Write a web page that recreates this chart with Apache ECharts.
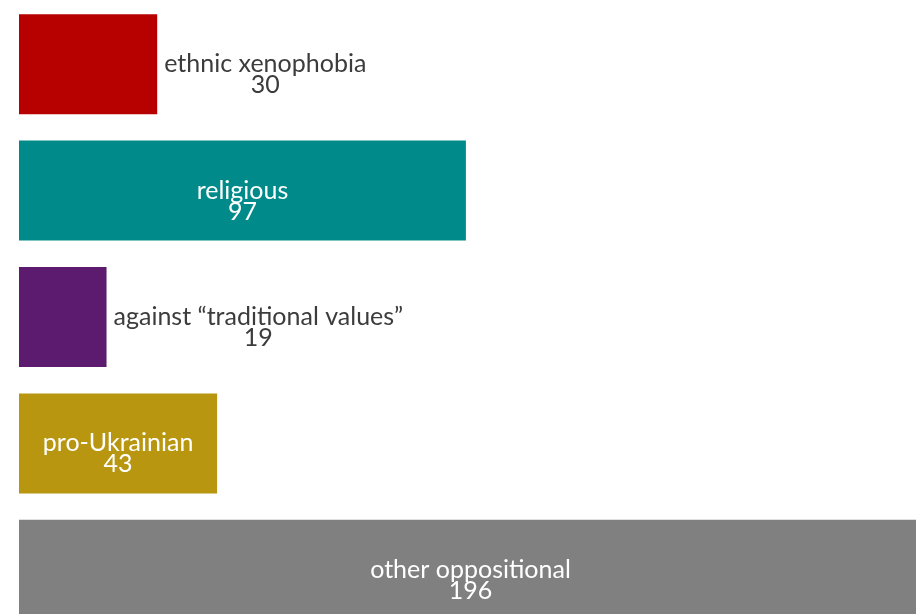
<!DOCTYPE html>
<html>
<head>
<meta charset="utf-8">
<style>
  html, body { margin: 0; padding: 0; background: #ffffff; }
  #chart { width: 916px; height: 614px; }
</style>
<script src="https://cdn.jsdelivr.net/npm/echarts@6/dist/echarts.min.js"></script>
</head>
<body>
<div id="chart"></div>
<script>
// Categories listed top to bottom, with their counts and bar colours
const categories = ['ethnic xenophobia', 'religious', 'against \u201ctraditional values\u201d', 'pro-Ukrainian', 'other oppositional'];
const counts = [30, 97, 19, 43, 196];
const barColors = ['#b70000', '#008b8a', '#5c1b6e', '#b8960f', '#808080'];

const FONT = 'Lato, "Source Sans Pro", "Noto Sans", sans-serif';
const FONT_SIZE = 25;
const LINE_H = 21;

const chart = echarts.init(document.getElementById('chart'), null, { renderer: 'canvas' });

function labelFor(i, inside) {
  const color = inside ? '#ffffff' : '#3c3c3c';
  return {
    show: true,
    position: inside ? 'inside' : 'right',
    distance: 7,
    offset: [0, LINE_H / 2],
    formatter: '{n|' + categories[i] + '}\n{v|' + counts[i] + '}',
    rich: {
      n: { align: 'center', fontFamily: FONT, fontSize: FONT_SIZE, lineHeight: LINE_H, color: color },
      v: { align: 'center', fontFamily: FONT, fontSize: FONT_SIZE, lineHeight: LINE_H, color: color }
    }
  };
}

function buildData(insideFlags) {
  return counts.map((v, i) => ({
    value: v,
    itemStyle: { color: barColors[i] },
    label: labelFor(i, insideFlags[i])
  }));
}

const option = {
  animation: false,
  backgroundColor: '#ffffff',
  // The plot runs past the right and bottom edges, so the last bar is cut off
  grid: { left: 19, top: 1, width: 903, height: 632, containLabel: false, outerBoundsMode: 'none' },
  xAxis: { type: 'value', min: 0, max: 196, show: false },
  yAxis: { type: 'category', data: categories, inverse: true, show: false },
  series: [{
    type: 'bar',
    barWidth: 100,
    data: buildData(counts.map(() => true))
  }]
};
chart.setOption(option);

// Put each label inside its bar only when the bar is wide enough to hold the text
const ctx = document.createElement('canvas').getContext('2d');
ctx.font = FONT_SIZE + 'px ' + FONT;
const x0 = chart.convertToPixel({ gridIndex: 0 }, [0, 0])[0];
const flags = counts.map((v, i) => {
  const w = chart.convertToPixel({ gridIndex: 0 }, [v, 0])[0] - x0;
  return ctx.measureText(categories[i]).width + 20 < w;
});
chart.setOption({ series: [{ data: buildData(flags) }] });
</script>
</body>
</html>
